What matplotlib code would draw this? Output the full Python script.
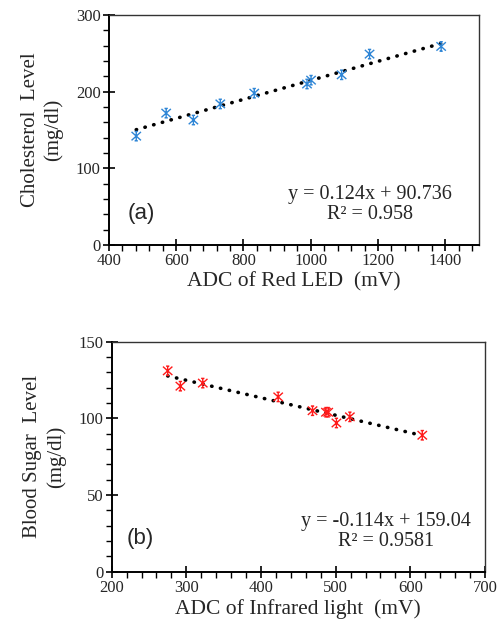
import numpy as np
import matplotlib.pyplot as plt
from matplotlib.ticker import MultipleLocator
from matplotlib.path import Path

# panel (a): cholesterol vs ADC of red LED
red_adc = [481, 570, 651, 731, 832, 989, 1001, 1092, 1175, 1388]
chol = [142, 172, 163, 184, 198, 210, 215, 222, 249, 259]
fit_a = (0.124, 90.736)

# panel (b): blood sugar vs ADC of infrared light
ir_adc = [275, 292, 322, 423, 469, 487, 490, 501, 519, 616]
sugar = [131, 121, 123, 114, 105, 104, 104, 97, 101, 89]
fit_b = (-0.114, 159.04)

plt.rcParams['font.family'] = ['Liberation Serif', 'DejaVu Serif']
txt = '#262626'

fig = plt.figure(figsize=(5.04, 6.28), dpi=100)
ax1 = fig.add_axes([0.2163, 0.6099, 0.7337, 0.3662])
ax2 = fig.add_axes([0.2216, 0.0896, 0.7407, 0.3663])

# excel-like star marker: x + vertical bar + short caps
M, L = Path.MOVETO, Path.LINETO
star = Path([(-1, -0.9), (1, 0.9), (-1, 0.9), (1, -0.9), (0, -1), (0, 1),
             (-0.35, 1), (0.35, 1), (-0.35, -1), (0.35, -1)],
            [M, L, M, L, M, L, M, L, M, L])
dotted = (0, (0.1, 2.4))


def style(ax, xmaj, xmin, ymaj, ymin):
    ax.xaxis.set_major_locator(MultipleLocator(xmaj))
    ax.xaxis.set_minor_locator(MultipleLocator(xmin))
    ax.yaxis.set_major_locator(MultipleLocator(ymaj))
    ax.yaxis.set_minor_locator(MultipleLocator(ymin))
    ax.tick_params(which='major', direction='inout', length=8, width=1.2,
                   labelsize=12, labelcolor=txt, pad=2)
    ax.tick_params(which='minor', direction='out', length=4, width=1.0)
    ax.tick_params(top=False, right=False, which='both')
    for s in ax.spines.values():
        s.set_linewidth(1.0)
        s.set_color('#333333')
    for s in ['left', 'bottom']:
        ax.spines[s].set_linewidth(1.4)
        ax.spines[s].set_color('black')


# (a)
ax1.scatter(red_adc, chol, marker=star, s=46, facecolors='none', edgecolors='#2f86d6',
            linewidths=1.0, zorder=3)
xa = np.array([min(red_adc), max(red_adc)])
ax1.plot(xa, fit_a[0] * xa + fit_a[1], color='black', linestyle=dotted,
         linewidth=2.6, dash_capstyle='round', zorder=2)
ax1.set_xlim(400, 1500)
ax1.set_ylim(0, 300)
style(ax1, 200, 40, 100, 20)
ax1.set_xticks([400, 600, 800, 1000, 1200, 1400])
ax1.set_xlabel('ADC of Red LED  (mV)', fontsize=15.5, color=txt, labelpad=2)
ax1.set_ylabel('Cholesterol  Level\n(mg/dl)', fontsize=15, color=txt, labelpad=9,
               linespacing=1.25)
ax1.text(0.705, 0.175, 'y = 0.124x + 90.736\nR² = 0.958', transform=ax1.transAxes,
         ha='center', va='center', fontsize=14.5, color=txt, linespacing=1.1)
ax1.text(0.05, 0.135, '(a)', transform=ax1.transAxes, ha='left', va='center',
         fontsize=16, family=['Liberation Sans', 'DejaVu Sans'], color=txt)

# (b)
ax2.scatter(ir_adc, sugar, marker=star, s=46, facecolors='none', edgecolors='#ff1a1a',
            linewidths=1.0, zorder=3)
xb = np.array([min(ir_adc), max(ir_adc)])
ax2.plot(xb, fit_b[0] * xb + fit_b[1], color='black', linestyle=dotted,
         linewidth=2.6, dash_capstyle='round', zorder=2)
ax2.set_xlim(200, 700)
ax2.set_ylim(0, 150)
style(ax2, 100, 20, 50, 10)
ax2.set_xlabel('ADC of Infrared light  (mV)', fontsize=15.5, color=txt, labelpad=2)
ax2.set_ylabel('Blood Sugar  Level\n(mg/dl)', fontsize=15, color=txt, labelpad=9,
               linespacing=1.25)
ax2.text(0.735, 0.175, 'y = -0.114x + 159.04\nR² = 0.9581', transform=ax2.transAxes,
         ha='center', va='center', fontsize=14.5, color=txt, linespacing=1.1)
ax2.text(0.04, 0.145, '(b)', transform=ax2.transAxes, ha='left', va='center',
         fontsize=16, family=['Liberation Sans', 'DejaVu Sans'], color=txt)

fig.savefig('out.png', dpi=100)
